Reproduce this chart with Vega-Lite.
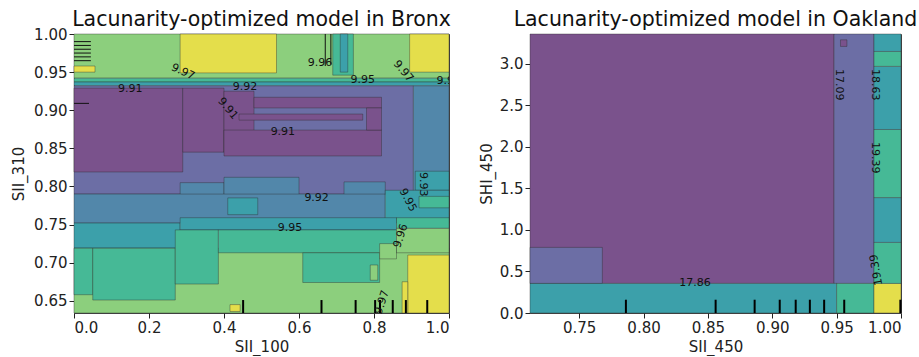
{
  "$schema": "https://vega.github.io/schema/vega-lite/v6.json",
  "padding": {"left": 11, "top": 9, "right": 1, "bottom": 1},
  "config": {
    "font": "DejaVu Sans",
    "view": {"stroke": "#444", "strokeWidth": 1},
    "axis": {"grid": false, "domain": false, "labelFontSize": 15, "titleFontSize": 15, "titleFontWeight": "normal", "labelColor": "#222", "titleColor": "#222", "tickColor": "#222", "tickSize": 5, "labelPadding": 2, "labelOverlap": false},
    "title": {"fontSize": 20.5, "fontWeight": "normal", "color": "#111", "baseline": "alphabetic", "offset": 3, "anchor": "middle", "frame": "group"}
  },
  "bounds": "flush",
  "spacing": 81,
  "datasets": {
    "bronx": [
      {"x": 0, "x2": 1, "y": 0.942, "y2": 1.0, "lvl": 5},
      {"x": 0.283, "x2": 0.54, "y": 0.949, "y2": 1.0, "lvl": 6},
      {"x": 0.69, "x2": 0.745, "y": 0.946, "y2": 1.0, "lvl": 4},
      {"x": 0.71, "x2": 0.73, "y": 0.95, "y2": 1.0, "lvl": 3},
      {"x": 0.895, "x2": 1.0, "y": 0.95, "y2": 1.0, "lvl": 6},
      {"x": 0, "x2": 0.056, "y": 0.95, "y2": 0.958, "lvl": 6},
      {"x": 0, "x2": 1, "y": 0.937, "y2": 0.942, "lvl": 4},
      {"x": 0, "x2": 1, "y": 0.932, "y2": 0.937, "lvl": 3},
      {"x": 0, "x2": 0.905, "y": 0.79, "y2": 0.932, "lvl": 1},
      {"x": 0.905, "x2": 1, "y": 0.79, "y2": 0.932, "lvl": 2},
      {"x": 0, "x2": 0.29, "y": 0.819, "y2": 0.929, "lvl": 0},
      {"x": 0.29, "x2": 0.4, "y": 0.845, "y2": 0.929, "lvl": 0},
      {"x": 0.4, "x2": 0.48, "y": 0.845, "y2": 0.925, "lvl": 0},
      {"x": 0.48, "x2": 0.82, "y": 0.903, "y2": 0.917, "lvl": 0},
      {"x": 0.4, "x2": 0.82, "y": 0.84, "y2": 0.874, "lvl": 0},
      {"x": 0.44, "x2": 0.77, "y": 0.887, "y2": 0.895, "lvl": 0},
      {"x": 0.78, "x2": 0.82, "y": 0.874, "y2": 0.903, "lvl": 0},
      {"x": 0.283, "x2": 0.4, "y": 0.789, "y2": 0.805, "lvl": 2},
      {"x": 0.4, "x2": 0.6, "y": 0.789, "y2": 0.812, "lvl": 2},
      {"x": 0.72, "x2": 0.83, "y": 0.789, "y2": 0.806, "lvl": 2},
      {"x": 0.91, "x2": 1.0, "y": 0.795, "y2": 0.82, "lvl": 3},
      {"x": 0, "x2": 0.83, "y": 0.752, "y2": 0.79, "lvl": 2},
      {"x": 0.83, "x2": 1.0, "y": 0.752, "y2": 0.795, "lvl": 3},
      {"x": 0.92, "x2": 1.0, "y": 0.772, "y2": 0.787, "lvl": 4},
      {"x": 0.41, "x2": 0.49, "y": 0.763, "y2": 0.785, "lvl": 3},
      {"x": 0, "x2": 0.283, "y": 0.719, "y2": 0.752, "lvl": 3},
      {"x": 0.283, "x2": 0.86, "y": 0.743, "y2": 0.759, "lvl": 3},
      {"x": 0.86, "x2": 1.0, "y": 0.745, "y2": 0.759, "lvl": 4},
      {"x": 0, "x2": 1, "y": 0.634, "y2": 0.719, "lvl": 5},
      {"x": 0, "x2": 0.05, "y": 0.658, "y2": 0.719, "lvl": 4},
      {"x": 0.05, "x2": 0.27, "y": 0.651, "y2": 0.719, "lvl": 4},
      {"x": 0.27, "x2": 0.385, "y": 0.672, "y2": 0.743, "lvl": 4},
      {"x": 0.385, "x2": 0.86, "y": 0.713, "y2": 0.743, "lvl": 4},
      {"x": 0.61, "x2": 0.815, "y": 0.674, "y2": 0.713, "lvl": 4},
      {"x": 0.79, "x2": 0.81, "y": 0.677, "y2": 0.697, "lvl": 5},
      {"x": 0.815, "x2": 0.86, "y": 0.705, "y2": 0.725, "lvl": 5},
      {"x": 0.86, "x2": 1.0, "y": 0.713, "y2": 0.745, "lvl": 5},
      {"x": 0.89, "x2": 1.0, "y": 0.634, "y2": 0.71, "lvl": 6},
      {"x": 0.875, "x2": 0.89, "y": 0.634, "y2": 0.675, "lvl": 6},
      {"x": 0.416, "x2": 0.443, "y": 0.636, "y2": 0.645, "lvl": 6}
    ],
    "bronxLines": [
      {"x": 0, "x2": 0.045, "y": 0.99, "y2": 0.99},
      {"x": 0, "x2": 0.045, "y": 0.985, "y2": 0.985},
      {"x": 0, "x2": 0.045, "y": 0.98, "y2": 0.98},
      {"x": 0, "x2": 0.045, "y": 0.975, "y2": 0.975},
      {"x": 0, "x2": 0.045, "y": 0.97, "y2": 0.97},
      {"x": 0, "x2": 0.045, "y": 0.965, "y2": 0.965},
      {"x": 0, "x2": 0.04, "y": 0.909, "y2": 0.909},
      {"x": 0.67, "x2": 0.67, "y": 0.958, "y2": 1.0},
      {"x": 0.685, "x2": 0.685, "y": 0.96, "y2": 1.0}
    ],
    "bronxRug": [{"x": 0.451}, {"x": 0.66}, {"x": 0.751}, {"x": 0.803}, {"x": 0.816}, {"x": 0.85}, {"x": 0.885}, {"x": 0.942}],
    "oak": [
      {"x": 0.7118, "x2": 0.948, "y": 0.356, "y2": 3.36, "lvl": 0},
      {"x": 0.7118, "x2": 0.768, "y": 0.356, "y2": 0.79, "lvl": 1},
      {"x": 0.948, "x2": 0.979, "y": 0.356, "y2": 3.36, "lvl": 1},
      {"x": 0.953, "x2": 0.958, "y": 3.21, "y2": 3.29, "lvl": 0},
      {"x": 0.7118, "x2": 0.95, "y": 0, "y2": 0.356, "lvl": 3},
      {"x": 0.95, "x2": 0.979, "y": 0, "y2": 0.356, "lvl": 4},
      {"x": 0.979, "x2": 1.0, "y": 0, "y2": 0.356, "lvl": 6},
      {"x": 0.979, "x2": 1.0, "y": 0.356, "y2": 0.85, "lvl": 4},
      {"x": 0.979, "x2": 1.0, "y": 0.85, "y2": 1.39, "lvl": 3},
      {"x": 0.979, "x2": 1.0, "y": 1.39, "y2": 2.21, "lvl": 4},
      {"x": 0.979, "x2": 1.0, "y": 2.21, "y2": 2.97, "lvl": 3},
      {"x": 0.979, "x2": 1.0, "y": 2.97, "y2": 3.15, "lvl": 4},
      {"x": 0.979, "x2": 1.0, "y": 3.15, "y2": 3.36, "lvl": 3}
    ],
    "oakRug": [{"x": 0.7863}, {"x": 0.856}, {"x": 0.8863}, {"x": 0.9058}, {"x": 0.9182}, {"x": 0.9292}, {"x": 0.9403}, {"x": 0.9559}, {"x": 0.9995}]
  },
  "hconcat": [
    {
      "width": 375,
      "height": 279,
      "title": {"text": "Lacunarity-optimized model in Bronx", "offset": -3},
      "layer": [
        {
          "data": {"name": "bronx"},
          "mark": {"type": "rect", "stroke": "#2a2a2a", "strokeWidth": 0.7, "strokeOpacity": 0.55},
          "encoding": {
            "x": {"field": "x", "type": "quantitative", "scale": {"domain": [0, 1], "nice": false, "zero": false}, "axis": {"title": "SII_100", "values": [0, 0.2, 0.4, 0.6, 0.8, 1.0], "format": ".1f", "titlePadding": 4, "labelOverlap": false}},
            "x2": {"field": "x2"},
            "y": {"field": "y", "type": "quantitative", "scale": {"domain": [0.634, 1.0], "nice": false, "zero": false}, "axis": {"title": "SII_310", "tickCount": 8, "format": ".2f", "titlePadding": 7, "labelOverlap": false, "labelFlush": false}},
            "y2": {"field": "y2"},
            "color": {"field": "lvl", "type": "ordinal", "scale": {"domain": [0, 1, 2, 3, 4, 5, 6], "range": ["#7a528c", "#6c6ea5", "#5287aa", "#3ca0aa", "#46b996", "#8ccf7d", "#e4de4b"]}, "legend": null}
          }
        },
        {
          "data": {"name": "bronxLines"},
          "mark": {"type": "rule", "color": "#111", "strokeWidth": 1},
          "encoding": {"x": {"field": "x", "type": "quantitative"}, "x2": {"field": "x2"}, "y": {"field": "y", "type": "quantitative"}, "y2": {"field": "y2"}}
        },
        {
          "data": {"name": "bronxRug"},
          "mark": {"type": "rule", "color": "#000", "strokeWidth": 2},
          "encoding": {"x": {"field": "x", "type": "quantitative"}, "y": {"datum": 0.634}, "y2": {"datum": 0.651}}
        },
        {
          "data": {"values": [
            {"x": 0.15, "y": 0.928, "t": "9.91"},
            {"x": 0.456, "y": 0.93, "t": "9.92"},
            {"x": 0.656, "y": 0.962, "t": "9.96"},
            {"x": 0.77, "y": 0.94, "t": "9.95"},
            {"x": 0.99, "y": 0.938, "t": "9.9"},
            {"x": 0.557, "y": 0.872, "t": "9.91"},
            {"x": 0.647, "y": 0.785, "t": "9.92"},
            {"x": 0.576, "y": 0.746, "t": "9.95"}
          ]},
          "mark": {"type": "text", "fontSize": 11, "color": "#111", "clip": true},
          "encoding": {"x": {"field": "x", "type": "quantitative"}, "y": {"field": "y", "type": "quantitative"}, "text": {"field": "t"}}
        },
        {
          "data": {"values": [{"x": 0.29, "y": 0.95, "t": "9.97"}]},
          "mark": {"type": "text", "fontSize": 11, "color": "#111", "angle": 25},
          "encoding": {"x": {"field": "x", "type": "quantitative"}, "y": {"field": "y", "type": "quantitative"}, "text": {"field": "t"}}
        },
        {
          "data": {"values": [{"x": 0.878, "y": 0.951, "t": "9.97"}, {"x": 0.41, "y": 0.902, "t": "9.91"}]},
          "mark": {"type": "text", "fontSize": 11, "color": "#111", "angle": 50},
          "encoding": {"x": {"field": "x", "type": "quantitative"}, "y": {"field": "y", "type": "quantitative"}, "text": {"field": "t"}}
        },
        {
          "data": {"values": [{"x": 0.93, "y": 0.803, "t": "9.93"}]},
          "mark": {"type": "text", "fontSize": 11, "color": "#111", "angle": 90},
          "encoding": {"x": {"field": "x", "type": "quantitative"}, "y": {"field": "y", "type": "quantitative"}, "text": {"field": "t"}}
        },
        {
          "data": {"values": [{"x": 0.89, "y": 0.782, "t": "9.95"}]},
          "mark": {"type": "text", "fontSize": 11, "color": "#111", "angle": 62},
          "encoding": {"x": {"field": "x", "type": "quantitative"}, "y": {"field": "y", "type": "quantitative"}, "text": {"field": "t"}}
        },
        {
          "data": {"values": [{"x": 0.872, "y": 0.735, "t": "9.96"}, {"x": 0.822, "y": 0.648, "t": "9.97"}]},
          "mark": {"type": "text", "fontSize": 11, "color": "#111", "angle": -72},
          "encoding": {"x": {"field": "x", "type": "quantitative"}, "y": {"field": "y", "type": "quantitative"}, "text": {"field": "t"}}
        }
      ]
    },
    {
      "width": 371,
      "height": 279,
      "title": {"text": "Lacunarity-optimized model in Oakland"},
      "layer": [
        {
          "data": {"name": "oak"},
          "mark": {"type": "rect", "stroke": "#2a2a2a", "strokeWidth": 0.7, "strokeOpacity": 0.55},
          "encoding": {
            "x": {"field": "x", "type": "quantitative", "scale": {"domain": [0.7118, 1.0], "nice": false, "zero": false}, "axis": {"title": "SII_450", "values": [0.75, 0.8, 0.85, 0.9, 0.95, 1.0], "format": ".2f", "titlePadding": 4, "labelOverlap": false}},
            "x2": {"field": "x2"},
            "y": {"field": "y", "type": "quantitative", "scale": {"domain": [0, 3.36], "nice": false, "zero": false}, "axis": {"title": "SHI_450", "values": [0, 0.5, 1.0, 1.5, 2.0, 2.5, 3.0], "format": ".1f", "titlePadding": 5, "labelOverlap": false}},
            "y2": {"field": "y2"},
            "color": {"field": "lvl", "type": "ordinal", "scale": {"domain": [0, 1, 2, 3, 4, 5, 6], "range": ["#7a528c", "#6c6ea5", "#5287aa", "#3ca0aa", "#46b996", "#8ccf7d", "#e4de4b"]}, "legend": null}
          }
        },
        {
          "data": {"name": "oakRug"},
          "mark": {"type": "rule", "color": "#000", "strokeWidth": 2},
          "encoding": {"x": {"field": "x", "type": "quantitative"}, "y": {"datum": 0}, "y2": {"datum": 0.16}}
        },
        {
          "data": {"values": [{"x": 0.84, "y": 0.36, "t": "17.86"}]},
          "mark": {"type": "text", "fontSize": 11, "color": "#111"},
          "encoding": {"x": {"field": "x", "type": "quantitative"}, "y": {"field": "y", "type": "quantitative"}, "text": {"field": "t"}}
        },
        {
          "data": {"values": [{"x": 0.9517, "y": 2.75, "t": "17.09"}, {"x": 0.98, "y": 2.75, "t": "18.63"}, {"x": 0.98, "y": 1.87, "t": "19.39"}]},
          "mark": {"type": "text", "fontSize": 11, "color": "#111", "angle": 90},
          "encoding": {"x": {"field": "x", "type": "quantitative"}, "y": {"field": "y", "type": "quantitative"}, "text": {"field": "t"}}
        },
        {
          "data": {"values": [{"x": 0.981, "y": 0.52, "t": "19.39"}]},
          "mark": {"type": "text", "fontSize": 11, "color": "#111", "angle": -100},
          "encoding": {"x": {"field": "x", "type": "quantitative"}, "y": {"field": "y", "type": "quantitative"}, "text": {"field": "t"}}
        }
      ]
    }
  ]
}
